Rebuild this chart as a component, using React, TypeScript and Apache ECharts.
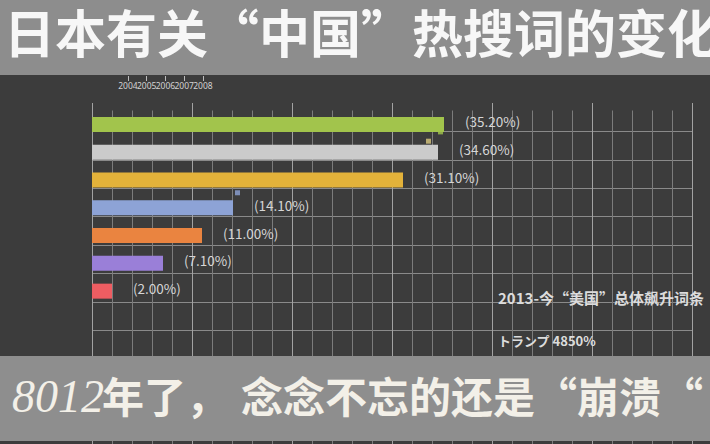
import React, { useEffect, useRef } from "react";
import * as echarts from "echarts";

const categories = ["1", "2", "3", "4", "5", "6", "7", "8", "9", "10", "11", "12"];
const values = [35.2, 34.6, 31.1, 14.1, 11.0, 7.1, 2.0];
const barColors = ["#a2c44c", "#cbcbcb", "#e3b23a", "#8da3d6", "#ea8440", "#9a7fd8", "#ee5d62"];
const yearTicks = ["2004", "2005", "2006", "2007", "2008"];
const trailValues = [34.85, 33.65, 14.55];
const trailRows = [0, 1, 3];
const trailColors = ["#a2c44c", "#d8c77e", "#8da3d6"];
const trailOffsets = [[0, 8.5], [0, -11], [0, -15]];
const trailSizes = [[5, 3], [5, 5], [5, 5]];

const title = "日本有关“中国”热搜词的变化";
const subtitleNum = "8012";
const subtitleA = "年了，";
const subtitleB = "念念不忘的还是“崩溃“";
const noteTitle = "2013-今“美国”总体飙升词条";
const noteLine = "トランプ 4850%";

export default function App() {
  const ref = useRef<HTMLDivElement>(null);
  useEffect(() => {
    if (!ref.current) return;
    const chart = echarts.init(ref.current, undefined, { renderer: "svg" });
    const cjk = "'Noto Sans CJK SC', 'Noto Sans', sans-serif";
    chart.setOption({
      animation: false,
      backgroundColor: "#3c3c3c",
      grid: [
        { left: 92, top: 110.5, width: 600, height: 360 },
        { left: 92, top: 103, width: 600, height: 360 },
        { left: 118.6, top: 75, width: 93.75, height: 1 },
      ],
      xAxis: [
        {
          type: "value", gridIndex: 0, min: 0, max: 60, interval: 2,
          axisLine: { show: false }, axisTick: { show: false }, axisLabel: { show: false },
          splitLine: { show: true, lineStyle: { color: "#7c7c7c", width: 1 } },
        },
        {
          type: "value", gridIndex: 1, min: 0, max: 60, interval: 10,
          axisLine: { show: false }, axisTick: { show: false }, axisLabel: { show: false },
          splitLine: { show: true, lineStyle: { color: "#a2a2a2", width: 1 } },
        },
        {
          type: "category", gridIndex: 2, data: yearTicks, position: "bottom",
          axisLine: { show: false },
          axisTick: { show: true, alignWithLabel: true, length: 5, lineStyle: { color: "#bdbdbd" } },
          axisLabel: { show: true, color: "#d2d2d2", fontSize: 8.5, margin: 5, fontFamily: "'Noto Sans', sans-serif", interval: 0 },
          splitLine: { show: false },
        },
      ],
      yAxis: [
        {
          type: "category", gridIndex: 0, data: categories, inverse: true,
          axisLine: { show: false }, axisTick: { show: false }, axisLabel: { show: false },
          splitLine: { show: false },
        },
        {
          type: "category", gridIndex: 1, data: categories, inverse: true,
          axisLine: { show: false }, axisTick: { show: false }, axisLabel: { show: false },
          splitLine: {
            show: true,
            interval: (index: number) => index > 0,
            lineStyle: { color: "#8a8a8a", width: 1 },
          },
        },
        { type: "value", gridIndex: 2, show: false },
      ],
      series: [
        {
          type: "bar",
          xAxisIndex: 0,
          yAxisIndex: 0,
          barWidth: 15,
          data: values.map((v, i) => ({ value: v, itemStyle: { color: barColors[i] } })),
          label: {
            show: true,
            position: "right",
            distance: 21,
            offset: [0, -3],
            color: "#d6d6d6",
            fontSize: 13.5,
            fontFamily: cjk,
            formatter: (p: any) => `(${Number(p.value).toFixed(2)}%)`,
          },
        },
        {
          type: "scatter",
          xAxisIndex: 0,
          yAxisIndex: 0,
          symbol: "rect",
          data: trailValues.map((v, i) => ({
            value: [v, trailRows[i]],
            symbolSize: trailSizes[i],
            symbolOffset: trailOffsets[i],
            itemStyle: { color: trailColors[i] },
          })),
        },
      ],
      graphic: [
        { type: "rect", z: 100, shape: { x: 0, y: 0, width: 710, height: 75 }, style: { fill: "#8d8d8d" } },
        { type: "rect", z: 100, shape: { x: 0, y: 356, width: 710, height: 85 }, style: { fill: "#8e8e8e" } },
        {
          type: "text", z: 101, x: 4, y: 31,
          style: { text: title, fill: "#f7f7f7", fontSize: 51, fontFamily: cjk, fontWeight: "bold", verticalAlign: "middle", align: "left" },
        },
        {
          type: "text", z: 101, x: 12, y: 396,
          style: { text: subtitleNum, fill: "#f3f0e8", fontSize: 46, fontFamily: "'Liberation Serif', serif", fontStyle: "italic", verticalAlign: "middle", align: "left" },
        },
        {
          type: "text", z: 101, x: 102, y: 394,
          style: { text: subtitleA, fill: "#f3f0e8", fontSize: 42, fontFamily: cjk, fontWeight: "bold", verticalAlign: "middle", align: "left" },
        },
        {
          type: "text", z: 101, x: 241, y: 394,
          style: { text: subtitleB, fill: "#f3f0e8", fontSize: 42, fontFamily: cjk, fontWeight: "bold", verticalAlign: "middle", align: "left" },
        },
        {
          type: "text", z: 101, x: 498, y: 297,
          style: { text: noteTitle, fill: "#dcdcdc", fontSize: 15, fontFamily: cjk, fontWeight: "bold", verticalAlign: "middle", align: "left" },
        },
        {
          type: "text", z: 101, x: 498, y: 340,
          style: { text: noteLine, fill: "#dcdcdc", fontSize: 13, fontFamily: cjk, fontWeight: "bold", verticalAlign: "middle", align: "left" },
        },
      ],
    });
    return () => chart.dispose();
  }, []);
  return (
    <div
      ref={ref}
      style={{ position: "fixed", left: 0, top: 0, width: 710, height: 444 }}
    />
  );
}
